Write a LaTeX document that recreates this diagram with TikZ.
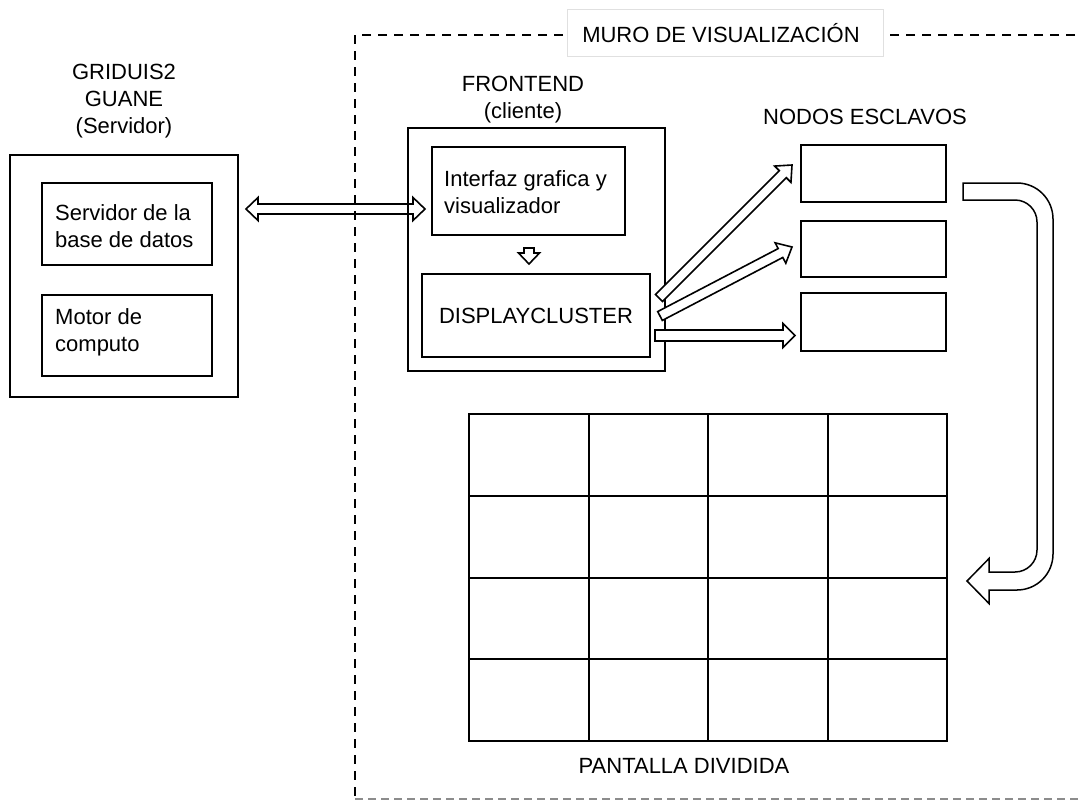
\documentclass[tikz,border=0pt]{standalone}
\usepackage{fontspec}
\setmainfont{Liberation Sans}
\usetikzlibrary{calc}

% Block arrow with a single head: #2 tail, #3 tip,
% #4 half shaft width, #5 half head width, #6 head length
\newcommand\blockarrow[6][]{%
  \coordinate (hb) at ($(#3)!#6!(#2)$);
  \draw[#1] ($(#2)!#4!90:(#3)$) -- ($(hb)!#4!90:(#3)$) -- ($(hb)!#5!90:(#3)$) -- (#3)
     -- ($(hb)!#5!-90:(#3)$) -- ($(hb)!#4!-90:(#3)$) -- ($(#2)!#4!-90:(#3)$) -- cycle;
}
% Block arrow with heads at both ends
\newcommand\dblarrow[6][]{%
  \coordinate (ha) at ($(#2)!#6!(#3)$);
  \coordinate (hb) at ($(#3)!#6!(#2)$);
  \draw[#1] (#2) -- ($(ha)!#5!90:(#3)$) -- ($(ha)!#4!90:(#3)$) -- ($(hb)!#4!-90:(#2)$)
     -- ($(hb)!#5!-90:(#2)$) -- (#3) -- ($(hb)!#5!90:(#2)$) -- ($(hb)!#4!90:(#2)$)
     -- ($(ha)!#4!-90:(#3)$) -- ($(ha)!#5!-90:(#3)$) -- cycle;
}

\begin{document}
\begin{tikzpicture}[x=1pt,y=-1pt,
  font=\fontsize{22pt}{27pt}\selectfont,
  box/.style={draw, line width=1.8pt, inner sep=0pt, outer sep=0pt},
  cell/.style={box, line width=2pt, minimum width=119.5pt, minimum height=81.75pt},
  txt/.style={inner sep=0pt, align=center},
  txtl/.style={inner sep=0pt, align=left, anchor=west},
  capline/.style={text height=15.75pt, text depth=0pt},
  barrow/.style={draw, line width=1.6pt, line join=miter},
  fillarrow/.style={barrow, fill=white},
  wall/.style={draw, line width=2pt, dash pattern=on 9pt off 7pt},
  wallbottom/.style={draw=black!45, line width=1.6pt, dash pattern=on 8pt off 5pt}]

\useasboundingbox (0,0) rectangle (1081,801);

% link between server and front end (outline only, lines show through)
\coordinate (link-a) at (246,209);
\coordinate (link-b) at (425,209);
\dblarrow[barrow]{link-a}{link-b}{5pt}{11.5pt}{12pt}

% visualization wall boundary
\draw[wall] (1075,35) -- (355,35) -- (355,799);
\draw[wallbottom] (355,799) -- (1081,799);
\node[draw=black!12, fill=white, line width=0.8pt, minimum width=316pt,
      minimum height=47pt, inner sep=0pt] (murobox) at (725,32.5) {};
\node[txt, capline] (murotext) at (721,35) {MURO DE VISUALIZACIÓN};

% server side
\node[txt] (servertitle) at (124,101.3) {GRIDUIS2\\GUANE\\(Servidor)};
\node[box, minimum width=228pt, minimum height=242pt] (server) at (124,276) {};
\node[box, minimum width=170pt, minimum height=82pt] (dbserver) at (127,224) {};
\node[txtl] (dbtext) at (55,225.7) {Servidor de la\\base de datos};
\node[box, minimum width=170pt, minimum height=81pt] (motor) at (127,335.5) {};
\node[txtl] (motortext) at (55,332.5) {Motor de\\computo};

% front end
\node[txt] (fetitle) at (523,99.5) {FRONTEND\\(cliente)};
\node[box, minimum width=257pt, minimum height=243pt] (frontend) at (536.5,249.5) {};
\node[box, minimum width=193pt, minimum height=88pt] (gui) at (528.5,191) {};
\node[txtl] (guitext) at (444,192.5) {Interfaz grafica y\\visualizador};
\node[box, minimum width=228pt, minimum height=83pt] (dc) at (536,315.5) {};
\node[txt, capline] (dctext) at (536,316) {DISPLAYCLUSTER};

\coordinate (gd-a) at (529,248);
\coordinate (gd-b) at (529,264);
\blockarrow[barrow]{gd-a}{gd-b}{5pt}{10.5pt}{11pt}

% slave nodes
\node[txt, capline] (slavestitle) at (865,117) {NODOS ESCLAVOS};
\node[box, minimum width=145pt, minimum height=57pt] (slave1) at (873.5,173.5) {};
\node[box, minimum width=145pt, minimum height=56pt] (slave2) at (873.5,249) {};
\node[box, minimum width=145pt, minimum height=58pt] (slave3) at (873.5,322) {};

\coordinate (s1-a) at (659,298);
\coordinate (s1-b) at (792,165);
\coordinate (s2-a) at (660,316);
\coordinate (s2-b) at (792,247);
\coordinate (s3-a) at (655,335.5);
\coordinate (s3-b) at (795,335.5);
\blockarrow[fillarrow]{s1-a}{s1-b}{5pt}{11.5pt}{13pt}
\blockarrow[fillarrow]{s2-a}{s2-b}{5pt}{11.5pt}{13pt}
\blockarrow[fillarrow]{s3-a}{s3-b}{5.5pt}{12pt}{12pt}

% divided screen
\foreach \r in {0,...,3}{
  \foreach \c in {0,...,3}{
    \node[cell] (cell-\r-\c) at ({528.75+119.5*\c},{454.875+81.75*\r}) {};
  }
}
\node[txt, capline] (screentext) at (684,765.5) {PANTALLA DIVIDIDA};

% return arrow from the slave nodes down to the screen
\draw[barrow, line width=1.5pt]
  (963,183) -- (1017,183) arc[start angle=-90, end angle=0, radius=36]
  -- (1053,554) arc[start angle=0, end angle=90, radius=36]
  -- (989,590) -- (989,603.5) -- (967,581) -- (989,558.5) -- (989,572)
  -- (1015,572) arc[start angle=90, end angle=0, radius=22]
  -- (1037,222) arc[start angle=0, end angle=-90, radius=22]
  -- (963,200) -- cycle;

\end{tikzpicture}
\end{document}
